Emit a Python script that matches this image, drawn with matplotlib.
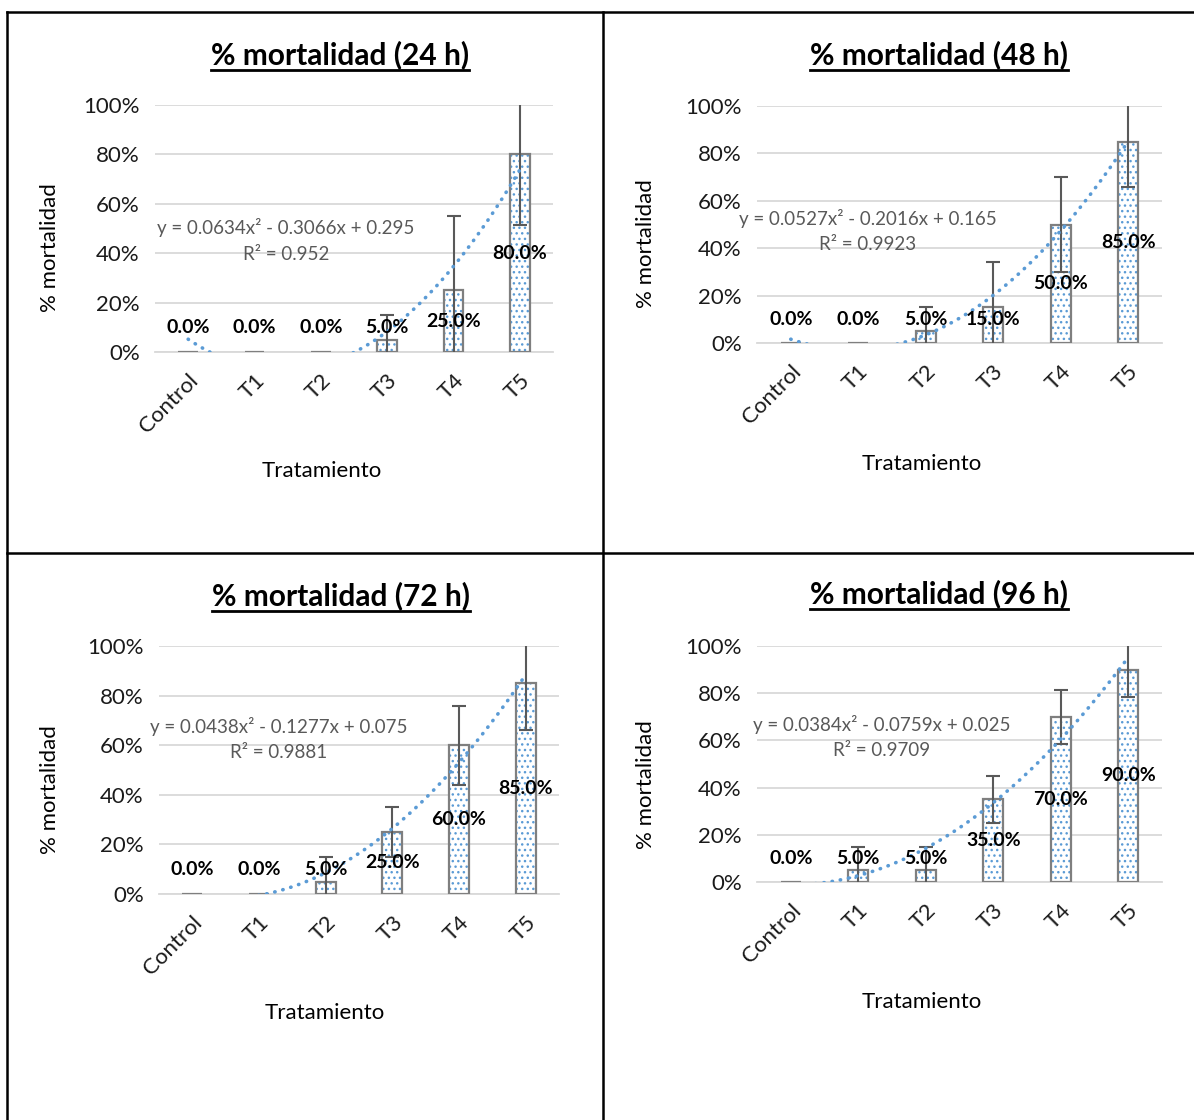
import numpy as np
import matplotlib
matplotlib.use("Agg")
import matplotlib.pyplot as plt
from matplotlib.lines import Line2D

plt.rcParams['font.family'] = ['Lato', 'DejaVu Sans']

W, H = 1194, 1120

CATEGORIES = ["Control", "T1", "T2", "T3", "T4", "T5"]

MORT_24 = [0.0, 0.0, 0.0, 0.05, 0.25, 0.80]
ERR_24 = [0.0, 0.0, 0.0, 0.10, 0.30, 0.285]
MORT_48 = [0.0, 0.0, 0.05, 0.15, 0.50, 0.85]
ERR_48 = [0.0, 0.0, 0.10, 0.19, 0.20, 0.19]
MORT_72 = [0.0, 0.0, 0.05, 0.25, 0.60, 0.85]
ERR_72 = [0.0, 0.0, 0.10, 0.10, 0.16, 0.19]
MORT_96 = [0.0, 0.05, 0.05, 0.35, 0.70, 0.90]
ERR_96 = [0.0, 0.10, 0.10, 0.10, 0.115, 0.115]

TITLES = ["% mortalidad (24 h)", "% mortalidad (48 h)",
          "% mortalidad (72 h)", "% mortalidad (96 h)"]
EQUATIONS = ["y = 0.0634x² - 0.3066x + 0.295", "y = 0.0527x² - 0.2016x + 0.165",
             "y = 0.0438x² - 0.1277x + 0.075", "y = 0.0384x² - 0.0759x + 0.025"]
R2_TEXT = ["R² = 0.952", "R² = 0.9923", "R² = 0.9881", "R² = 0.9709"]

BLUE = "#5b9bd5"
GRAY_EDGE = "#7f7f7f"
ERR_COL = "#595959"
GRID = "#d9d9d9"

# panel layout in pixels: axes box (x0, x1, ytop, ybottom), title, y label, x label, equation
PANELS = [
    dict(box=(155, 553, 105, 352), title=(340, 55), ylab=(50, 248), xlab=(322, 471), eq=(286, 228)),
    dict(box=(757, 1162, 106, 343), title=(939, 55), ylab=(646, 244), xlab=(922, 464), eq=(868, 218)),
    dict(box=(159, 559, 646, 894), title=(341, 596), ylab=(50, 790), xlab=(325, 1013), eq=(279, 726)),
    dict(box=(757, 1162, 646, 882), title=(939, 594), ylab=(646, 785), xlab=(922, 1002), eq=(882, 725)),
]


def fx(x):
    return x / W


def fy(y):
    return 1 - y / H


fig = plt.figure(figsize=(W / 100, H / 100), dpi=100)

data = [(MORT_24, ERR_24), (MORT_48, ERR_48), (MORT_72, ERR_72), (MORT_96, ERR_96)]
x = np.arange(len(CATEGORIES))
title_texts = []

for i, (vals, errs) in enumerate(data):
    p = PANELS[i]
    x0, x1, yt, yb = p["box"]
    ax = fig.add_axes([fx(x0), fy(yb), fx(x1 - x0), (yb - yt) / H])
    vals = np.array(vals)
    errs = np.array(errs)

    # dotted fill then gray outline
    ax.bar(x, vals, width=0.3, color="white", edgecolor=BLUE, hatch="...", lw=0, zorder=2)
    ax.bar(x, vals, width=0.3, fill=False, edgecolor=GRAY_EDGE, lw=1.6, zorder=3)
    m = errs > 0
    ax.errorbar(x[m], vals[m], yerr=errs[m], fmt="none", ecolor=ERR_COL,
                elinewidth=1.5, capsize=5, capthick=1.5, zorder=4)

    # 2nd order trendline fit on the means (x = 1..6 like excel)
    coef = np.polyfit(x + 1, vals, 2)
    xs = np.linspace(1, 6, 200)
    ax.plot(xs - 1, np.polyval(coef, xs), color=BLUE, lw=2.6,
            linestyle=(0, (0.1, 2.2)), dash_capstyle="round", zorder=5)

    for xi, v in zip(x, vals):
        ax.text(xi, max(v / 2, 0.10), f"{v * 100:.1f}%", ha="center", va="center",
                fontsize=14, fontweight="bold", color="black", zorder=6)

    ax.set_xlim(-0.5, len(CATEGORIES) - 0.5)
    ax.set_ylim(0, 1)
    ticks = np.arange(0, 1.01, 0.2)
    ax.set_yticks(ticks)
    ax.set_yticklabels([f"{int(round(t * 100))}%" for t in ticks])
    ax.set_xticks(x)
    ax.set_xticklabels(CATEGORIES, rotation=45, ha="right", rotation_mode="anchor")
    ax.tick_params(axis="both", length=0, labelsize=16, colors="#1a1a1a")
    ax.tick_params(axis="y", pad=11)
    ax.tick_params(axis="x", pad=13)
    ax.grid(axis="y", color=GRID, lw=1.3)
    ax.set_axisbelow(True)
    for s in ["top", "right", "left"]:
        ax.spines[s].set_visible(False)
    ax.spines["bottom"].set_color(GRID)
    ax.spines["bottom"].set_linewidth(1.3)

    ex, ey = p["eq"]
    fig.text(fx(ex), fy(ey), EQUATIONS[i], ha="center", va="center", fontsize=13.5, color=ERR_COL)
    fig.text(fx(ex), fy(ey + 26), R2_TEXT[i], ha="center", va="center", fontsize=13.5, color=ERR_COL)

    tx, ty = p["title"]
    t = fig.text(fx(tx), fy(ty), TITLES[i], ha="center", va="center",
                 fontsize=21.5, fontweight="bold", color="black")
    title_texts.append(t)
    lx, ly = p["ylab"]
    fig.text(fx(lx), fy(ly), "% mortalidad", rotation=90, ha="center", va="center", fontsize=16)
    xx, xy = p["xlab"]
    fig.text(fx(xx), fy(xy), "Tratamiento", ha="center", va="center", fontsize=16)

# underline the titles
fig.canvas.draw()
r = fig.canvas.get_renderer()
for t in title_texts:
    bb = t.get_window_extent(r)
    yline = bb.y0 - 1
    fig.add_artist(Line2D([bb.x0 / W, bb.x1 / W], [yline / H, yline / H], color="black", lw=2))

# table borders
lines = [((7, 7), (12, H)), ((603, 603), (12, H)), ((7, W), (12, 12)), ((7, W), (553, 553))]
for xs_, ys_ in lines:
    fig.add_artist(Line2D([fx(v) for v in xs_], [fy(v) for v in ys_], color="black", lw=1.8))

fig.savefig("out.png", dpi=100)
